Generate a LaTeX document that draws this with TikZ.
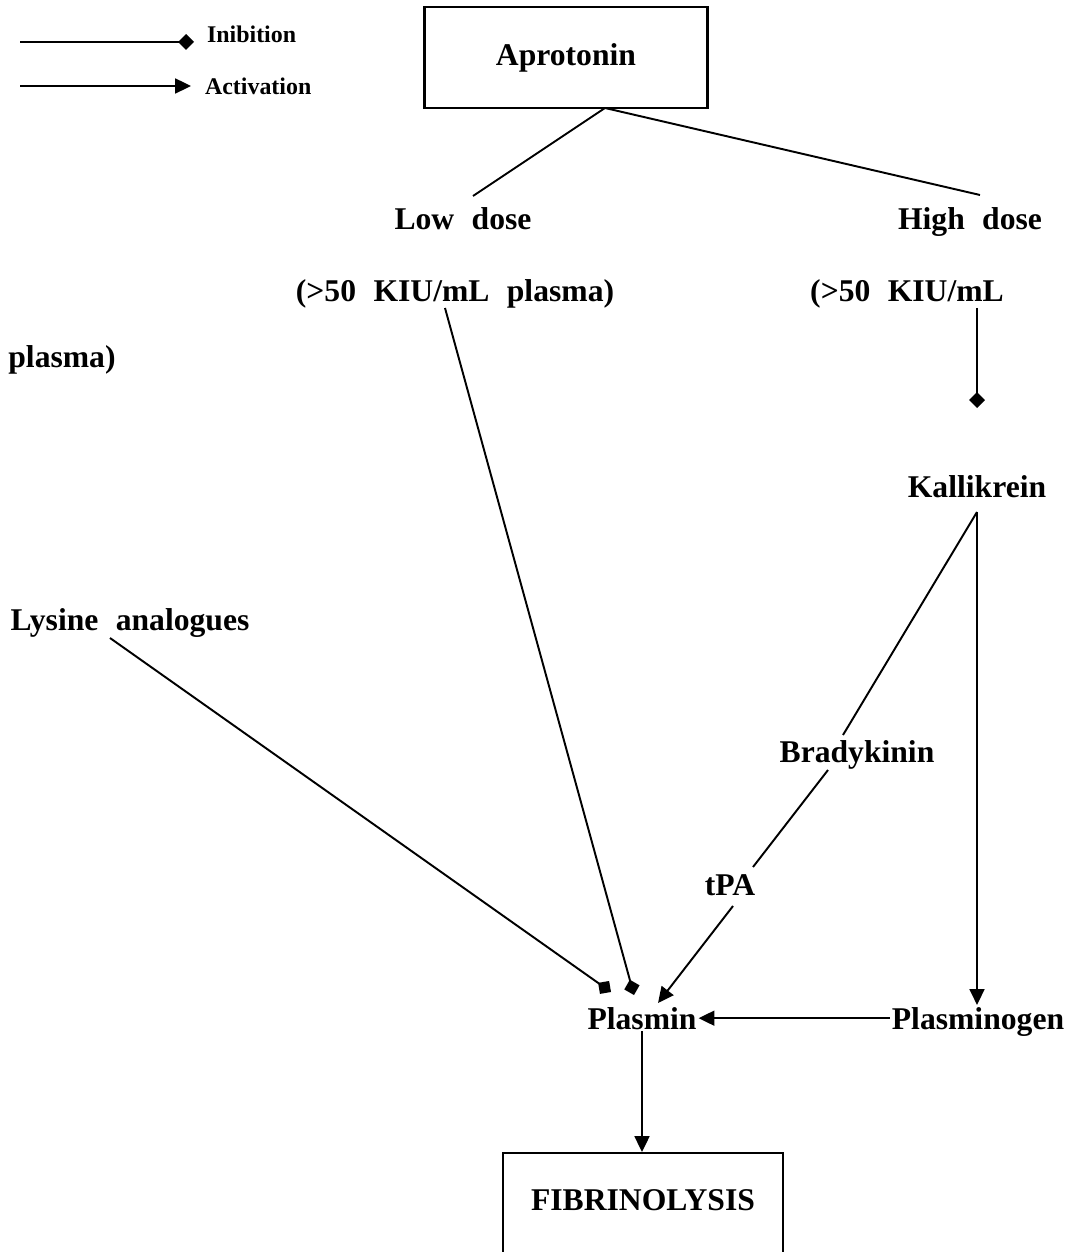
\documentclass[tikz,border=0pt]{standalone}
\usepackage{fontspec}
\setmainfont{Liberation Serif}
\usetikzlibrary{arrows.meta}
\newcommand{\wsp}{\hspace{0.55em}}

\begin{document}
\begin{tikzpicture}[x=0.2mm,y=-0.2mm,
  >={Triangle[length=9pt,width=8.5pt]},
  every node/.style={font=\fontsize{18}{21}\selectfont\bfseries,inner sep=1pt,anchor=base},
  box/.style={draw,line width=1.2pt,inner sep=0pt},
  small/.style={font=\fontsize{13.6}{16}\selectfont\bfseries,anchor=base west},
  inhib/.style={line width=1.1pt,-{Turned Square[length=9pt,width=9pt]}},
  act/.style={line width=1.1pt,->},
  link/.style={line width=1.1pt}]
 \useasboundingbox (0,0) rectangle (1070,1252);
 % legend
 \node[small] (inib) at (205,43) {Inibition};
 \node[small] (activ) at (203,95) {Activation};
 \coordinate (i0) at (20,42);  \coordinate (i1) at (194,42);
 \coordinate (v0) at (20,86);  \coordinate (v1) at (191,86);
 \draw[inhib] (i0)--(i1);
 \draw[act] (v0)--(v1);
 % boxes
 \node[box,anchor=center,minimum width=56.6mm,minimum height=20.2mm] (apro) at (566,57.5) {Aprotonin};
 \node[box,anchor=north,minimum width=56mm,text height=11.4mm,text depth=20mm] (fib) at (643,1152) {FIBRINOLYSIS};
 % labels
 \node (low)    at (463,230)  {Low\wsp dose};
 \node (high)   at (970,230)  {High\wsp dose};
 \node (lowc)   at (455,302)  {(>50\wsp KIU/mL\wsp plasma)};
 \node (highc)  at (907,302)  {(>50\wsp KIU/mL};
 \node (plasma) at (62,368)   {plasma)};
 \node (kal)    at (977,497)  {Kallikrein};
 \node (lys)    at (130,630)  {Lysine\wsp analogues};
 \node (brady)  at (857,762)  {Bradykinin};
 \node (tpa)    at (730,895)  {tPA};
 \node (plasmin) at (642,1029) {Plasmin};
 \node (plgn)   at (978,1029) {Plasminogen};
 % line ends
 \coordinate (a0) at (605,108);
 \coordinate (l0) at (473,196);  \coordinate (h0) at (980,195);
 \coordinate (lc) at (445,308);  \coordinate (lcE) at (634,995);
 \coordinate (hc) at (977,308);  \coordinate (hcE) at (977,408);
 \coordinate (ly) at (110,638);  \coordinate (lyE) at (611,992);
 \coordinate (k0) at (977,512);
 \coordinate (b0) at (843,735);  \coordinate (b1) at (828,770);
 \coordinate (t0) at (753,867);  \coordinate (t1) at (733,906);
 \coordinate (pE) at (658,1003);
 % connectors
 \draw[link] (a0)--(l0);
 \draw[link] (a0)--(h0);
 \draw[inhib] (lc)--(lcE);
 \draw[inhib] (hc)--(hcE);
 \draw[inhib] (ly)--(lyE);
 \draw[link] (k0)--(b0);
 \draw[link] (b1)--(t0);
 \draw[act] (t1)--(pE);
 \draw[act] (k0)--(k0 |- plgn.north);
 \draw[act] (plasmin.east -| plgn.west)--(plasmin.east);
 \draw[act] (plasmin.south)--(plasmin.south |- fib.north);
\end{tikzpicture}
\end{document}
